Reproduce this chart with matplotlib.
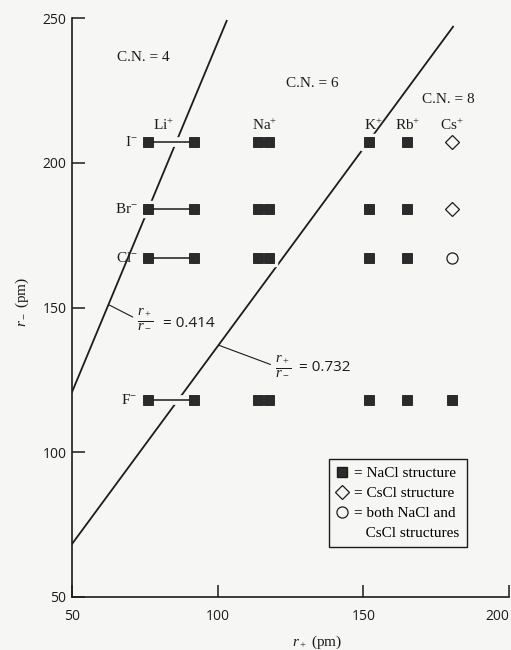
import matplotlib
matplotlib.use('Agg')
import matplotlib.pyplot as plt
import matplotlib.patheffects as pe
from matplotlib.lines import Line2D
import numpy as np

# anion radii (pm), one row per halide
anions = ['I', 'Br', 'Cl', 'F']
r_anion = [207, 184, 167, 118]

# cation radii (pm); Li+ and Na+ are shown with two values
li_radii = [76, 92]
na_radii = [114, 117.5]
cations = ['K', 'Rb', 'Cs']
r_cation = [152, 165, 180.5]
k_struct = ['NaCl', 'NaCl', 'NaCl', 'NaCl']
rb_struct = ['NaCl', 'NaCl', 'NaCl', 'NaCl']
cs_struct = ['CsCl', 'CsCl', 'both', 'NaCl']

# radius ratio limits and where each line stops at the top
ratios = [0.414, 0.732]
r_top = [249, 247]

BG = '#f6f6f4'
INK = '#1c1c1c'
FILL = '#2b2b2b'
SQ = 7.3
NUM_FONT = 'Open Sans'

plt.rcParams['font.family'] = ['Liberation Serif', 'DejaVu Serif']
plt.rcParams['mathtext.fontset'] = 'custom'
plt.rcParams['mathtext.rm'] = 'Liberation Serif'
plt.rcParams['mathtext.it'] = 'Liberation Serif:italic'

fig = plt.figure(figsize=(5.11, 6.5), dpi=100, facecolor=BG)
ax = fig.add_axes([72/511, 53/650, 437/511, 579/650], facecolor=BG)

# ratio lines through the origin
for ratio, top in zip(ratios, r_top):
    xs = np.array([50, ratio*top])
    ax.plot(xs, xs/ratio, color=INK, lw=1.3, zorder=2)

halo = [pe.Stroke(linewidth=7, foreground=BG), pe.Normal()]

def square(x, y):
    ax.plot([x], [y], marker='s', ms=11, color=BG, ls='none', zorder=3)
    ax.plot([x], [y], marker='s', ms=SQ, color=FILL, mec=INK, mew=0.6, ls='none', zorder=5)

for name, ry in zip(anions, r_anion):
    # Li+ pair joined by a line
    ax.plot(li_radii, [ry, ry], color=INK, lw=1.1, zorder=4, path_effects=halo)
    for rx in li_radii:
        square(rx, ry)
    for rx in na_radii:
        square(rx, ry)
    ax.text(li_radii[0]-3.5, ry, name + '$^{-}$', ha='right', va='center', fontsize=11, color=INK)

for name, rx, structs in zip(cations, r_cation, [k_struct, rb_struct, cs_struct]):
    for ry, st in zip(r_anion, structs):
        if st == 'NaCl':
            square(rx, ry)
        elif st == 'CsCl':
            ax.plot([rx], [ry], marker='D', ms=7, mfc='none', mec=INK, mew=0.9, ls='none', zorder=5)
        else:
            ax.plot([rx], [ry], marker='o', ms=8, mfc='none', mec=INK, mew=0.9, ls='none', zorder=5)

# cation labels
cat_labels = ['Li', 'Na', 'K', 'Rb', 'Cs']
cat_x = [81.5, 116.3, 153.3, 165.3, 180.5]
for lab, x in zip(cat_labels, cat_x):
    ax.text(x, 212.8, lab + '$^{+}$', ha='center', va='center', fontsize=11, color=INK)

ax.text(74.4, 236.5, 'C.N. = 4', ha='center', va='center', fontsize=11, color=INK)
ax.text(132.4, 227.5, 'C.N. = 6', ha='center', va='center', fontsize=11, color=INK)
ax.text(179.1, 222, 'C.N. = 8', ha='center', va='center', fontsize=11, color=INK)

# ratio annotations: fraction with leader line, then the value
frac = r'$\frac{r_+}{r_-}$'
ann_frac = [(75.1, 146.0), (122.4, 129.8)]
ann_hit = [151, 137]
ann_val = [(81.2, 144.6), (128.0, 129.4)]
for ratio, fxy, hit, vxy in zip(ratios, ann_frac, ann_hit, ann_val):
    ax.annotate(frac, xy=(ratio*hit, hit), xytext=fxy, ha='center', va='center', fontsize=15, color=INK,
                arrowprops=dict(arrowstyle='-', color=INK, lw=0.8, relpos=(0, 0.5), shrinkA=1, shrinkB=0))
    ax.text(vxy[0], vxy[1], f'= {ratio:.3f}', ha='left', va='center', fontsize=11, color=INK,
            family=NUM_FONT)

ax.set_xlim(50, 200)
ax.set_ylim(50, 250)
ax.set_xticks([50, 100, 150, 200])
ax.set_yticks([50, 100, 150, 200, 250])
for s in ['top', 'right']:
    ax.spines[s].set_visible(False)
for s in ['left', 'bottom']:
    ax.spines[s].set_linewidth(1.2)
    ax.spines[s].set_color(INK)
ax.tick_params(direction='in', length=9, width=1.1, labelsize=10, colors=INK)
ax.tick_params(axis='x', pad=9)
ax.tick_params(axis='y', pad=4)
for lab in ax.get_xticklabels() + ax.get_yticklabels():
    lab.set_family(NUM_FONT)
ax.get_xticklabels()[-1].set_ha('right')

ax.text(0.561, -0.079, '$r_+$ (pm)', transform=ax.transAxes, ha='center', va='center', fontsize=11, color=INK)
ax.text(-0.114, 0.51, '$r_-$ (pm)', transform=ax.transAxes, ha='center', va='center', rotation=90,
        fontsize=11, color=INK)

handles = [
    Line2D([], [], marker='s', ms=SQ, color=FILL, mec=INK, ls='none'),
    Line2D([], [], marker='D', ms=7, mfc='none', mec=INK, mew=0.9, ls='none'),
    Line2D([], [], marker='o', ms=8, mfc='none', mec=INK, mew=0.9, ls='none'),
    Line2D([], [], ls='none'),
]
labels = ['= NaCl structure', '= CsCl structure', '= both NaCl and', '   CsCl structures']
leg = ax.legend(handles, labels, loc='lower right', bbox_to_anchor=(0.903, 0.086), borderaxespad=0,
                fontsize=11, fancybox=False, framealpha=1, facecolor=BG, edgecolor=INK,
                handlelength=0.8, handletextpad=0.4, borderpad=0.45, labelspacing=0.42)
leg.get_frame().set_linewidth(1.0)

fig.savefig('out.png', dpi=100, facecolor=BG)
